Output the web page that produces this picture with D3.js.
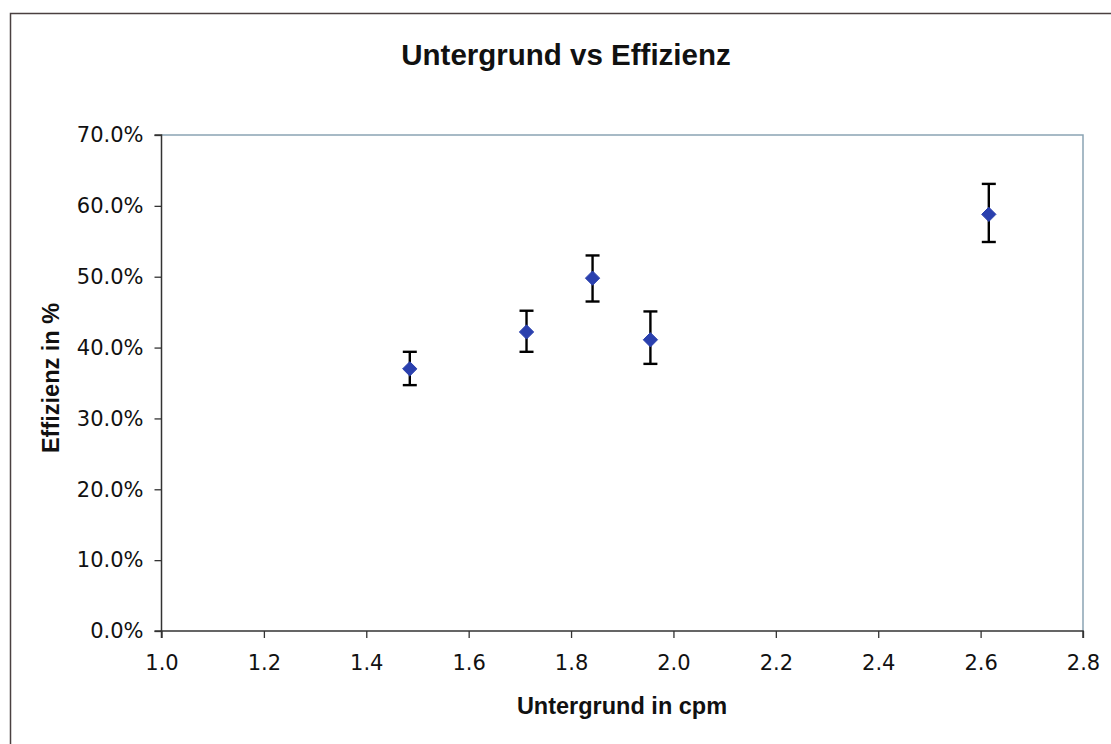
<!DOCTYPE html>
<html>
<head>
<meta charset="utf-8">
<script src="https://cdn.jsdelivr.net/npm/d3@7"></script>
<style>
  html, body { margin: 0; padding: 0; background: #fff; }
  svg { display: block; }
  text { font-family: "Liberation Sans", Arial, sans-serif; fill: #111; }
</style>
</head>
<body>
<svg id="chart" width="1111" height="744"></svg>
<script>
// ---- data ----
const untergrund = [1.485, 1.713, 1.842, 1.955, 2.616];
const effizienz  = [0.370, 0.422, 0.498, 0.411, 0.588];
const errUpper   = [0.394, 0.452, 0.530, 0.451, 0.631];
const errLower   = [0.347, 0.394, 0.465, 0.377, 0.549];
const xTicks = [1.0, 1.2, 1.4, 1.6, 1.8, 2.0, 2.2, 2.4, 2.6, 2.8];
const yTicks = [0, 0.1, 0.2, 0.3, 0.4, 0.5, 0.6, 0.7];
const titleText = "Untergrund vs Effizienz";
const xTitle = "Untergrund in cpm";
const yTitle = "Effizienz in %";

const svg = d3.select("#chart");

// outer chart border
svg.append("rect")
  .attr("x", 10.5).attr("y", 13.5)
  .attr("width", 1120).attr("height", 760)
  .attr("fill", "#fff").attr("stroke", "#4a4040").attr("stroke-width", 1.5);

const plot = { left: 161.5, right: 1083, top: 135, bottom: 631 };

const x = d3.scaleLinear().domain([1.0, 2.8]).range([plot.left, plot.right]);
const y = d3.scaleLinear().domain([0, 0.7]).range([plot.bottom, plot.top]);

// plot area top/right border (light steel)
svg.append("path")
  .attr("d", `M${plot.left},${plot.top}H${plot.right}V${plot.bottom}`)
  .attr("fill", "none").attr("stroke", "#8aa4b4").attr("stroke-width", 1.5);

// axes
const tickFont = "\"DejaVu Sans\", Verdana, sans-serif";
const xAxis = d3.axisBottom(x).tickValues(xTicks).tickFormat(d3.format(".1f"))
  .tickSize(7).tickPadding(17);
const yAxis = d3.axisLeft(y).tickValues(yTicks).tickFormat(d3.format(".1%"))
  .tickSize(7).tickPadding(11);

const gx = svg.append("g").attr("transform", `translate(0,${plot.bottom})`).call(xAxis);
const gy = svg.append("g").attr("transform", `translate(${plot.left},0)`).call(yAxis);
[gx, gy].forEach(g => {
  g.select(".domain").attr("stroke", "#333").attr("stroke-width", 1.5);
  g.selectAll(".tick line").attr("stroke", "#333").attr("stroke-width", 1.3);
  g.selectAll(".tick text").style("font-size", "21px").attr("fill", "#111")
    .style("font-family", tickFont);
});
gx.select(".domain").attr("d", `M${plot.left},7V0H${plot.right}V7`);
gy.select(".domain").attr("d", `M-7,${plot.top}H0V${plot.bottom}H-7`);

// error bars
const pts = untergrund.map((u, i) => ({ u, e: effizienz[i], hi: errUpper[i], lo: errLower[i] }));
const capW = 7;
const eb = svg.append("g").attr("stroke", "#000").attr("stroke-width", 2.4).attr("fill", "none");
pts.forEach(p => {
  eb.append("line").attr("x1", x(p.u)).attr("x2", x(p.u)).attr("y1", y(p.hi)).attr("y2", y(p.lo));
  eb.append("line").attr("x1", x(p.u) - capW).attr("x2", x(p.u) + capW).attr("y1", y(p.hi)).attr("y2", y(p.hi));
  eb.append("line").attr("x1", x(p.u) - capW).attr("x2", x(p.u) + capW).attr("y1", y(p.lo)).attr("y2", y(p.lo));
});

// markers
svg.append("g").selectAll("path").data(pts).join("path")
  .attr("d", d3.symbol(d3.symbolDiamond2, 130))
  .attr("transform", d => `translate(${x(d.u)},${y(d.e)})`)
  .attr("fill", "#2a40ae").attr("stroke", "#2a40ae").attr("stroke-width", 1);

// titles
svg.append("text").attr("x", 566).attr("y", 65).attr("text-anchor", "middle")
  .style("font-size", "29.5px").style("font-weight", "bold").text(titleText);
svg.append("text").attr("x", 622).attr("y", 714).attr("text-anchor", "middle")
  .style("font-size", "23.5px").style("font-weight", "bold").text(xTitle);
svg.append("text").attr("transform", "translate(59,378) rotate(-90)").attr("text-anchor", "middle")
  .style("font-size", "23.5px").style("font-weight", "bold").text(yTitle);
</script>
</body>
</html>
